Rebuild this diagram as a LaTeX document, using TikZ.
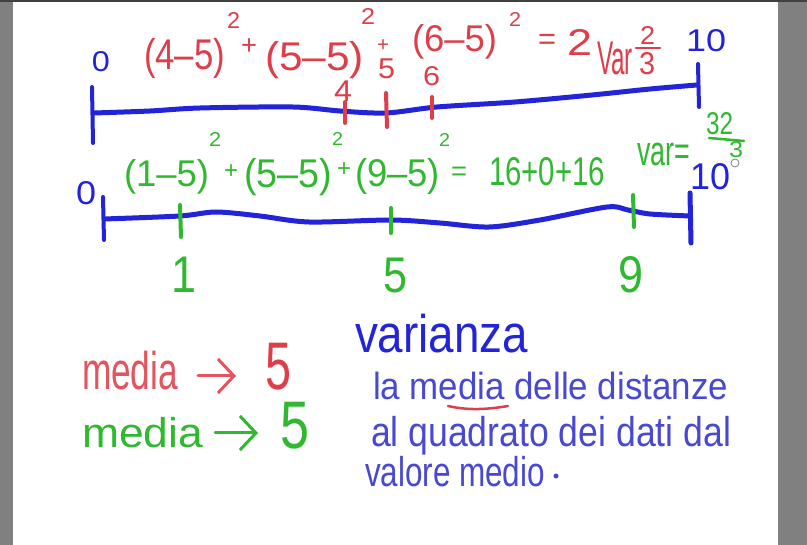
\documentclass[tikz,border=0pt]{standalone}
\usepackage{fontspec}
\setmainfont{Liberation Sans}
\usepackage{graphicx}
\usetikzlibrary{arrows.meta}
\definecolor{bggray}{RGB}{128,128,128}
\definecolor{topgray}{RGB}{64,64,64}
\definecolor{cblue}{RGB}{35,35,215}
\definecolor{lblue}{RGB}{72,72,208}
\definecolor{cred}{RGB}{222,62,74}
\definecolor{lred}{RGB}{226,84,94}
\definecolor{cgreen}{RGB}{48,184,48}
% digit-height fitted text: colour, name, x, baseline y, width, digit height, text
\newcommand\dg[7]{\node[txt,text=#1] (#2) at (#3,#4) {\resizebox{#5pt}{#6pt}{\smash{#7}\vphantom{0}}};}
% x-height fitted text
\newcommand\lx[7]{\node[txt,text=#1] (#2) at (#3,#4) {\resizebox{#5pt}{#6pt}{\smash{#7}\vphantom{x}}};}
% centred operator
\newcommand\op[6]{\node[inner sep=0pt,outer sep=0pt,anchor=center,text=#1] (#2) at (#3,#4) {\resizebox{#5pt}{!}{#6}};}
\tikzset{
  txt/.style={inner sep=0pt,outer sep=0pt,anchor=base west},
  bline/.style={cblue,line width=5pt,line cap=round,line join=round},
  btick/.style={cblue,line width=4pt,line cap=round},
  rtick/.style={cred,line width=4pt,line cap=round},
  gtick/.style={cgreen,line width=4pt,line cap=round},
  handarrow/.style={line width=3pt,line cap=round,-{Straight Barb[length=16pt,width=34pt,line width=3pt]}}
}
\begin{document}
\begin{tikzpicture}[x=1pt,y=-1pt]
\useasboundingbox (0,0) rectangle (807,545);
\fill[bggray] (0,0) rectangle (807,545);
\fill[white] (13,2) rectangle (778,545);
\fill[topgray] (0,0) rectangle (807,2);

% ---- top number line ----
\draw[bline] plot[smooth] coordinates {(94,113) (150,111) (200,108) (293,107) (340,111) (386,113) (437,107) (515,102) (592,95) (650,89) (697,85)};
\draw[btick] (92,87) -- (93,143);
\draw[btick] (698,64) -- (699,107);
\draw[rtick] (345,102) -- (345,123);
\draw[rtick] (386,93) -- (387,127);
\draw[rtick] (432,97) -- (432,118);

\dg{cblue}{zeroA}{92}{72}{18}{20}{0}
\dg{cblue}{tenA}{686}{52}{40}{22}{10}

\dg{cred}{r1}{144}{70}{81}{30}{(4–5)}
\dg{cred}{r2}{227}{29}{13}{16}{2}
\op{cred}{r3}{249}{47}{16}{+}
\dg{cred}{r4}{265}{71}{99}{28}{(5–5)}
\dg{cred}{r5}{361}{25}{14}{16}{2}
\op{cred}{r6}{383}{46}{12}{+}
\dg{cred}{r7}{412}{52}{85}{26}{(6–5)}
\dg{cred}{r8}{509}{27}{12}{14}{2}
\op{cred}{r9}{547}{42}{18}{=}
\dg{cred}{r10}{567}{56}{25}{26}{2}
\dg{cred}{r11}{597}{75}{36}{33}{Var}
\dg{cred}{r12}{640}{45}{15}{18}{2}
\dg{cred}{r13}{639}{75}{16}{22}{3}
\draw[cred,line width=2.5pt,line cap=round] (636,48) -- (660,48);

\dg{cred}{lab4}{334}{102}{18}{21}{4}
\dg{cred}{lab5}{378}{79}{17}{20}{5}
\dg{cred}{lab6}{423}{86}{17}{19}{6}

% ---- second number line ----
\draw[bline] plot[smooth] coordinates {(104,219) (180,216) (216,212) (260,216) (309,222) (391,220) (440,223) (489,227) (540,220) (607,207) (628,210) (650,214) (690,216)};
\draw[btick] (103,197) -- (104,240);
\draw[cblue,line width=5pt,line cap=round] (690,193) -- (691,243);
\draw[gtick] (180,205) -- (181,237);
\draw[gtick] (391,208) -- (391,233);
\draw[gtick] (633,195) -- (634,227);

\dg{cblue}{zeroB}{76}{205}{20}{23}{0}
\dg{cblue}{tenB}{690}{190}{40}{26}{10}

\dg{cgreen}{g1}{124}{187}{85}{26}{(1–5)}
\dg{cgreen}{g2}{209}{147}{12}{14}{2}
\op{cgreen}{g3}{231}{172}{14}{+}
\dg{cgreen}{g4}{244}{188}{88}{28}{(5–5)}
\dg{cgreen}{g5}{332}{146}{11}{13}{2}
\op{cgreen}{g6}{344}{170}{14}{+}
\dg{cgreen}{g7}{355}{187}{85}{27}{(9–5)}
\dg{cgreen}{g8}{439}{147}{11}{13}{2}
\op{cgreen}{g9}{459}{174}{16}{=}
\dg{cgreen}{g10}{489}{186}{116}{28}{16+0+16}
\lx{cgreen}{g11}{637}{166}{53}{22}{var=}
\dg{cgreen}{g12}{706}{135}{27}{22}{32}
\draw[cgreen,line width=2.5pt,line cap=round] (709,138) -- (744,141);
\dg{cgreen}{g13}{729}{158}{14}{16}{3}
\draw[gray,line width=0.8pt,fill=white] (735,163) circle (4);

\dg{cgreen}{lab1}{171}{293}{25}{36}{1}
\dg{cgreen}{labg5}{383}{293}{24}{35}{5}
\dg{cgreen}{lab9}{618}{293}{25}{36}{9}

% ---- lower part ----
\lx{lred}{mediaR}{82}{390}{96}{28}{media}
\dg{cred}{fiveR}{265}{390}{26}{47}{5}
\draw[handarrow,lred,shorten <=20pt,shorten >=29pt] (mediaR.east) -- (mediaR.east -| fiveR.west);
\lx{cgreen}{mediaG}{82}{448}{121}{22}{media}
\dg{cgreen}{fiveG}{280}{449}{29}{47}{5}
\draw[handarrow,cgreen,shorten <=12pt,shorten >=22pt] ([yshift=4pt]mediaG.east) -- ([yshift=4pt]mediaG.east -| fiveG.west);

\lx{cblue}{varianza}{355}{353}{173}{28}{varianza}
\lx{lblue}{line1}{373}{400}{355}{20}{la media delle distanze}
\lx{lblue}{line2}{371}{447}{360}{22}{al quadrato dei dati dal}
\lx{lblue}{line3}{365}{487}{180}{22}{valore medio}
\fill[lblue] (556,476) circle (2.5);
\draw[cred,line width=2.5pt,line cap=round] (448,406) .. controls (470,411) and (490,409) .. (508,406);
\end{tikzpicture}
\end{document}
